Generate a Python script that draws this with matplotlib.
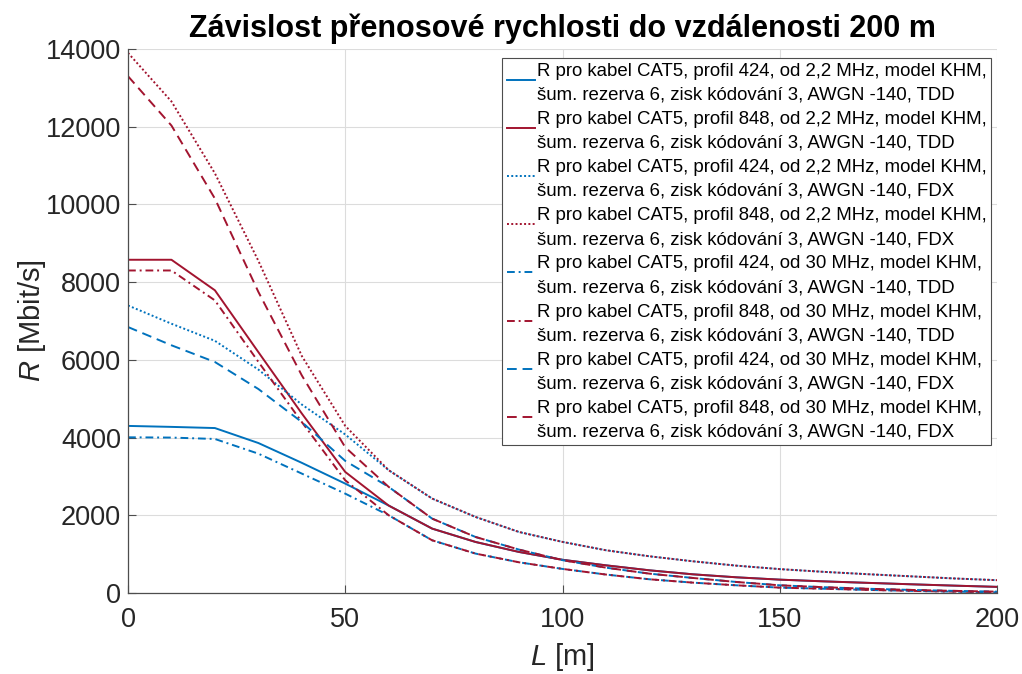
#!/usr/bin/python3
import numpy as np
import matplotlib
matplotlib.use("Agg")
import matplotlib.pyplot as plt
from matplotlib.legend_handler import HandlerLine2D


########################################################################################################################
# Data
########################################################################################################################

distance = [0, 10, 20, 30, 40, 50, 60, 70, 80, 90, 100, 110, 120, 130, 140, 150, 160, 170, 180, 190, 200]

r_424_22_tdd = [4300, 4275, 4245, 3860, 3350, 2815, 2250, 1657, 1313, 1056, 855, 712, 584, 481, 404, 344, 300,
                262, 225, 190, 158]
r_848_22_tdd = [8576, 8576, 7790, 6200, 4620, 3115, 2250, 1657, 1313, 1056, 855, 712, 584, 481, 404, 344, 300,
                262, 225, 190, 158]
r_424_22_fdx = [7400, 6930, 6490, 5750, 4850, 4080, 3160, 2430, 1957, 1570, 1315, 1100, 945, 816, 704, 615, 545,
                485, 430, 375, 330]
r_848_22_fdx = [13900, 12650, 10800, 8550, 6100, 4300, 3160, 2430, 1957, 1570, 1315, 1100, 945, 816, 704, 615, 545,
                485, 430, 375, 330]
r_424_30_tdd = [4007, 4000, 3964, 3586, 3073, 2557, 2000, 1356, 1014, 790, 620, 475, 353, 267, 198, 138, 110,
                80, 55, 35, 18]
r_848_30_tdd = [8300, 8300, 7530, 5950, 4400, 2900, 2000, 1356, 1014, 790, 620, 475, 353, 267, 198, 138, 110,
                80, 55, 35, 18]
r_424_30_fdx = [6845, 6375, 5945, 5250, 4400, 3400, 2730, 1914, 1441, 1117, 845, 652, 498, 387, 284, 198, 150,
                110, 80, 55, 35]
r_848_30_fdx = [13300, 12030, 10150, 7750, 5600, 3750, 2730, 1914, 1441, 1117, 845, 652, 498, 387, 284, 198, 150,
                110, 80, 55, 35]

labels = [
    "R pro kabel CAT5, profil 424, od 2,2 MHz, model KHM,\nšum. rezerva 6, zisk kódování 3, AWGN -140, TDD",
    "R pro kabel CAT5, profil 848, od 2,2 MHz, model KHM,\nšum. rezerva 6, zisk kódování 3, AWGN -140, TDD",
    "R pro kabel CAT5, profil 424, od 2,2 MHz, model KHM,\nšum. rezerva 6, zisk kódování 3, AWGN -140, FDX",
    "R pro kabel CAT5, profil 848, od 2,2 MHz, model KHM,\nšum. rezerva 6, zisk kódování 3, AWGN -140, FDX",
    "R pro kabel CAT5, profil 424, od 30 MHz, model KHM,\nšum. rezerva 6, zisk kódování 3, AWGN -140, TDD",
    "R pro kabel CAT5, profil 848, od 30 MHz, model KHM,\nšum. rezerva 6, zisk kódování 3, AWGN -140, TDD",
    "R pro kabel CAT5, profil 424, od 30 MHz, model KHM,\nšum. rezerva 6, zisk kódování 3, AWGN -140, FDX",
    "R pro kabel CAT5, profil 848, od 30 MHz, model KHM,\nšum. rezerva 6, zisk kódování 3, AWGN -140, FDX",
]

x_ticks = [0, 50, 100, 150, 200]
y_ticks = [0, 2000, 4000, 6000, 8000, 10000, 12000, 14000]


########################################################################################################################
# Utils
########################################################################################################################

BLUE = "#0072BD"
RED = "#A2142F"
SOLID = "-"
DOTTED = (0, (1, 1.2))
DASHDOT = (0, (4, 2, 1, 2))
DASHED = (0, (5, 3))


class UpperLineHandler(HandlerLine2D):
    """
    Legend handle drawn under the first line of a two line label (like MATLAB does)
    """
    def create_artists(self, legend, orig_handle, xdescent, ydescent, width, height, fontsize, trans):
        return super().create_artists(legend, orig_handle, xdescent, ydescent - 0.36 * fontsize, width, height,
                                      fontsize, trans)


def setup_fonts():
    plt.rcParams['font.family'] = ['Liberation Sans', 'DejaVu Sans']
    plt.rcParams['mathtext.fontset'] = 'custom'
    plt.rcParams['mathtext.rm'] = 'Liberation Sans'
    plt.rcParams['mathtext.it'] = 'Liberation Sans:italic'


########################################################################################################################
# Plot
########################################################################################################################

def plot_rates(file_name="out.png"):
    setup_fonts()
    fig = plt.figure(figsize=(10.22, 6.74), dpi=100)
    ax = fig.add_axes([128 / 1022, 1 - 593 / 674, (997 - 128) / 1022, (593 - 49) / 674])

    series = [
        (r_424_22_tdd, BLUE, SOLID),
        (r_848_22_tdd, RED, SOLID),
        (r_424_22_fdx, BLUE, DOTTED),
        (r_848_22_fdx, RED, DOTTED),
        (r_424_30_tdd, BLUE, DASHDOT),
        (r_848_30_tdd, RED, DASHDOT),
        (r_424_30_fdx, BLUE, DASHED),
        (r_848_30_fdx, RED, DASHED),
    ]
    lines = []
    for (values, color, style), label in zip(series, labels):
        ln, = ax.plot(distance, values, color=color, linestyle=style, linewidth=1.4, label=label)
        lines.append(ln)

    ax.set_xlim(0, 200)
    ax.set_ylim(0, 14000)
    ax.set_xticks(x_ticks)
    ax.set_yticks(y_ticks)
    ax.grid(True, color="#dcdcdc", linewidth=0.8)
    ax.set_axisbelow(True)
    for side in ["top", "right"]:
        ax.spines[side].set_visible(False)
    for side in ["left", "bottom"]:
        ax.spines[side].set_color("#4d4d4d")
        ax.spines[side].set_linewidth(0.9)
    ax.tick_params(direction="in", length=6, width=0.8, colors="#4d4d4d", labelcolor="#262626", labelsize=19.5)
    ax.tick_params(axis="x", pad=10)
    ax.tick_params(axis="y", pad=5)

    ax.set_xlabel(r"$\mathit{L}$ [m]", fontsize=21, color="#262626", labelpad=6)
    ax.set_ylabel(r"$\mathit{R}$ [Mbit/s]", fontsize=21, color="#262626", labelpad=-1.5)
    ax.set_title("Závislost přenosové rychlosti do vzdálenosti 200 m", fontsize=22, fontweight="bold", pad=9)

    leg = ax.legend(handles=lines, loc="upper right", bbox_to_anchor=(991 / 1022, 1 - 58 / 674),
                    bbox_transform=fig.transFigure, borderaxespad=0, fontsize=13.4, frameon=True,
                    fancybox=False, framealpha=1, edgecolor="#4d4d4d", handlelength=1.5, handletextpad=0.1,
                    labelspacing=0.4, borderpad=0.25,
                    handler_map={matplotlib.lines.Line2D: UpperLineHandler()})
    leg.get_frame().set_linewidth(0.8)
    for txt in leg.get_texts():
        txt.set_linespacing(1.52)

    fig.savefig(file_name, dpi=100)
    plt.close(fig)


if __name__ == "__main__":
    plot_rates("out.png")
